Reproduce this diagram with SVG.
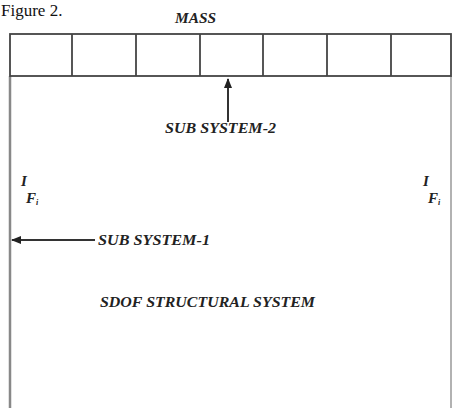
<svg xmlns="http://www.w3.org/2000/svg" width="452" height="408" viewBox="0 0 452 408">
<defs>
<style>
.lbl{font-family:"Liberation Serif",serif;font-weight:bold;font-style:italic;font-size:15px;fill:#222}
.grid{stroke:#444;stroke-width:1.8;fill:none}
.frame{stroke:#888;stroke-width:2.5;fill:none}
.conn{stroke:#333;stroke-width:2;fill:none}
</style>
<marker id="ah" viewBox="0 0 10 10" refX="9" refY="5" markerWidth="5" markerHeight="5" orient="auto">
<path d="M0,1 L10,5 L0,9 Z" fill="#222"/>
</marker>
</defs>
<rect width="452" height="408" fill="#fff"/>
<text x="1" y="16" font-family="Liberation Serif,serif" font-size="17" fill="#111">Figure 2.</text>
<g id="frame">
<line class="frame" x1="10" y1="76" x2="10" y2="408"/>
<line x1="451" y1="76" x2="451" y2="408" stroke="#999" stroke-width="1.5"/>
</g>
<g id="mass">
<rect class="grid" x="10" y="34" width="441" height="42"/>
<line class="grid" x1="72" y1="34" x2="72" y2="76"/>
<line class="grid" x1="136" y1="34" x2="136" y2="76"/>
<line class="grid" x1="200" y1="34" x2="200" y2="76" stroke-width="2.4"/>
<line class="grid" x1="263" y1="34" x2="263" y2="76"/>
<line class="grid" x1="327" y1="34" x2="327" y2="76"/>
<line class="grid" x1="391" y1="34" x2="391" y2="76" stroke="#888" stroke-width="2.4"/>
<text class="lbl" x="175" y="23" font-size="14" textLength="41" lengthAdjust="spacingAndGlyphs">MASS</text>
</g>
<g id="connectors">
<line class="conn" x1="228" y1="122" x2="228" y2="79" marker-end="url(#ah)"/>
<line class="conn" x1="95" y1="240" x2="12" y2="240" marker-end="url(#ah)"/>
</g>
<g id="sub2"><text class="lbl" x="165" y="133" textLength="111" lengthAdjust="spacingAndGlyphs">SUB SYSTEM-2</text></g>
<g id="sub1"><text class="lbl" x="98" y="245" textLength="112" lengthAdjust="spacingAndGlyphs">SUB SYSTEM-1</text></g>
<g id="sdof"><text class="lbl" x="100" y="307" textLength="215" lengthAdjust="spacingAndGlyphs">SDOF STRUCTURAL SYSTEM</text></g>
<g id="left-if">
<text class="lbl" x="21" y="186">I</text>
<text class="lbl" x="26" y="203">F<tspan font-size="8" dy="2">i</tspan></text>
</g>
<g id="right-if">
<text class="lbl" x="423" y="186">I</text>
<text class="lbl" x="428" y="203">F<tspan font-size="8" dy="2">i</tspan></text>
</g>
</svg>
